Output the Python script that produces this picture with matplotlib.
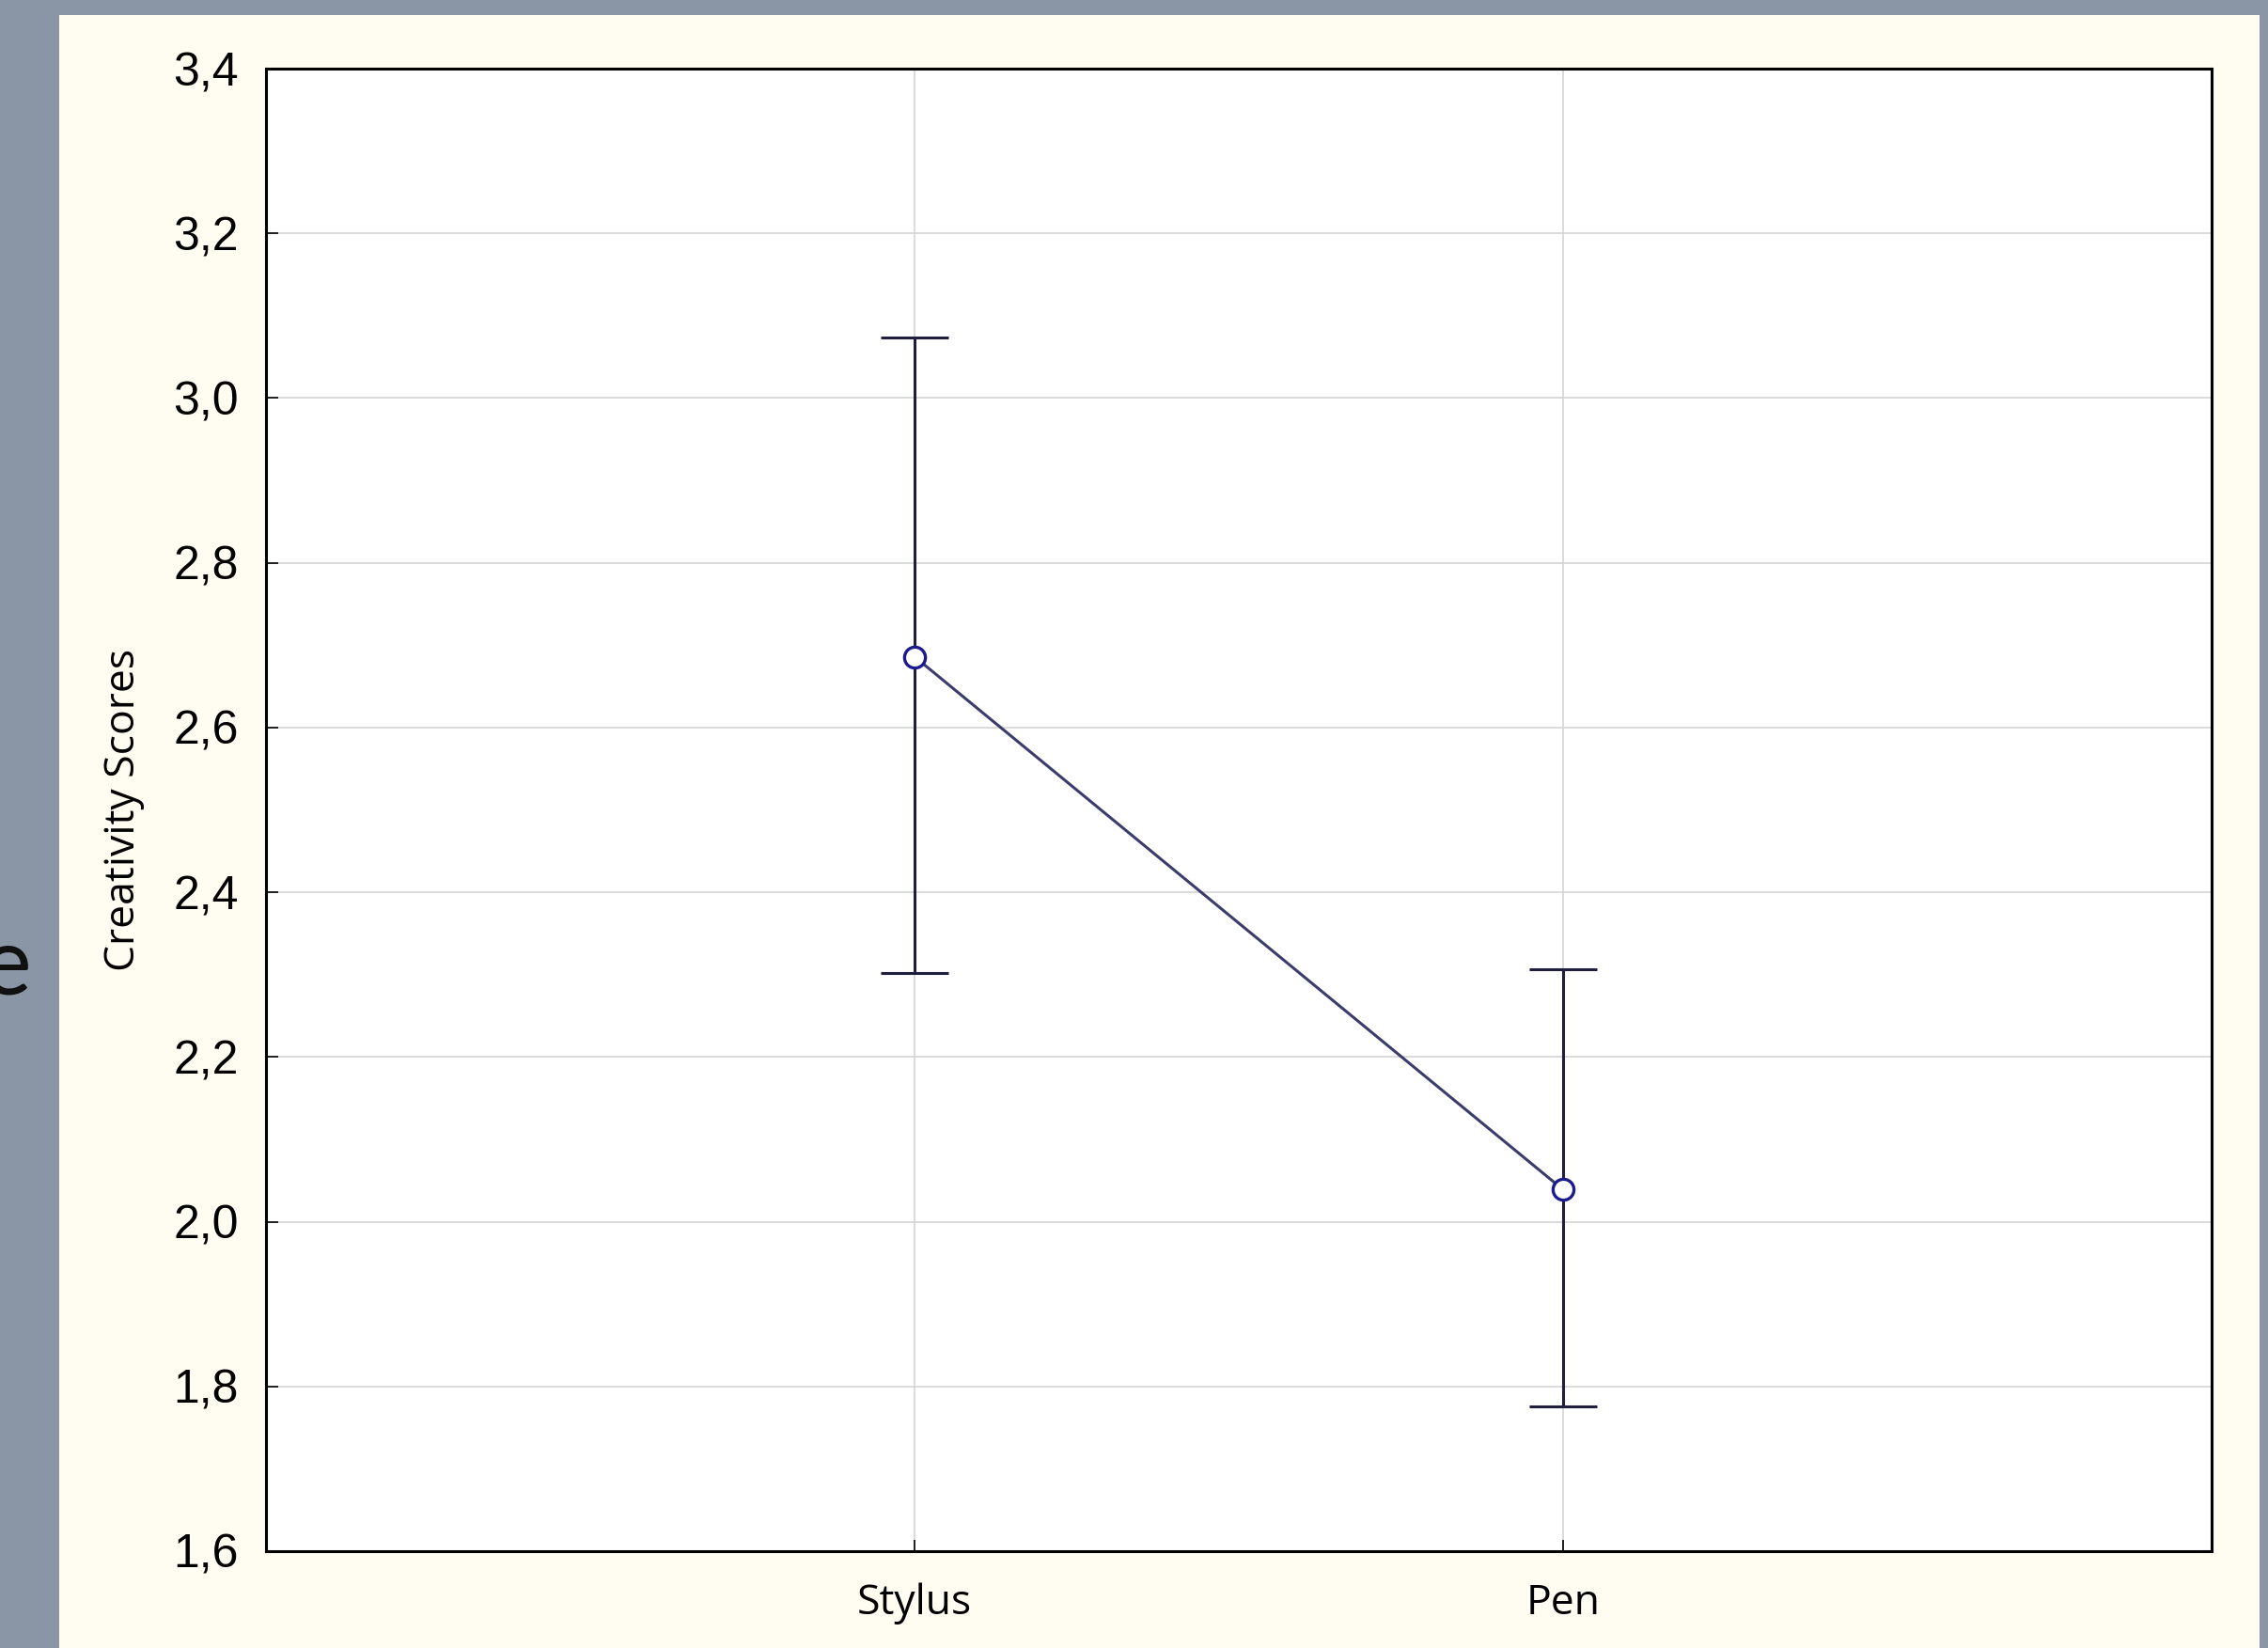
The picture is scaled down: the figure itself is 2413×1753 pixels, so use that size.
import numpy as np
import matplotlib.pyplot as plt
from matplotlib.patches import Rectangle

categories = ['Stylus', 'Pen']
means = [2.686, 2.039]
upper = [3.074, 2.306]
lower = [2.302, 1.776]
y_ticks = [1.6, 1.8, 2.0, 2.2, 2.4, 2.6, 2.8, 3.0, 3.2, 3.4]

W, H = 2413, 1753
fig = plt.figure(figsize=(W / 100, H / 100), dpi=100)
fig.patch.set_facecolor('#8a95a6')

# cream panel behind the chart
fig.add_artist(Rectangle((63 / W, 0), (2404 - 63) / W, 1 - 16 / H,
                         transform=fig.transFigure, facecolor='#fffcf1',
                         edgecolor='none', zorder=-10))
# cut-off slide text on the left
fig.text(34 / W, 1 - 1058 / H, 'e', ha='right', va='baseline',
         fontsize=72, family='Lato', color='#111111')

ax = fig.add_axes([283 / W, 1 - 1650 / H, (2353 - 283) / W, (1650 - 73) / H])
ax.set_facecolor('white')

x = np.arange(1, len(categories) + 1)
m = np.array(means)
yerr = [m - np.array(lower), np.array(upper) - m]

ax.errorbar(x, m, yerr=yerr, fmt='none', ecolor='#1f1f3d', elinewidth=2.2,
            capsize=26, capthick=2.2, zorder=3)
ax.plot(x, m, color='#3c3c6c', lw=2.2, zorder=4)
ax.plot(x, m, 'o', ms=16, mfc='white', mec='#1c1c8f', mew=2.4, zorder=5)

ax.set_xlim(0, 3)
ax.set_ylim(1.6, 3.4)
ax.set_xticks(x)
ax.set_xticklabels(categories, family='Open Sans', fontsize=32)
ax.set_yticks(y_ticks)
ax.set_yticklabels([f'{v:.1f}'.replace('.', ',') for v in y_ticks],
                   family='Liberation Sans', fontsize=36)
ax.tick_params(direction='in', length=9, width=1.2, colors='black')
ax.tick_params(axis='y', pad=21)
ax.tick_params(axis='x', pad=24)

ax.grid(True, color='#d4d4d4', lw=1.2)
ax.set_axisbelow(True)
for s in ax.spines.values():
    s.set_linewidth(2.2)
    s.set_color('black')

ax.set_ylabel('Creativity Scores', family='Open Sans', fontsize=32, labelpad=22)

fig.savefig('out.png', dpi=100, facecolor=fig.get_facecolor())
